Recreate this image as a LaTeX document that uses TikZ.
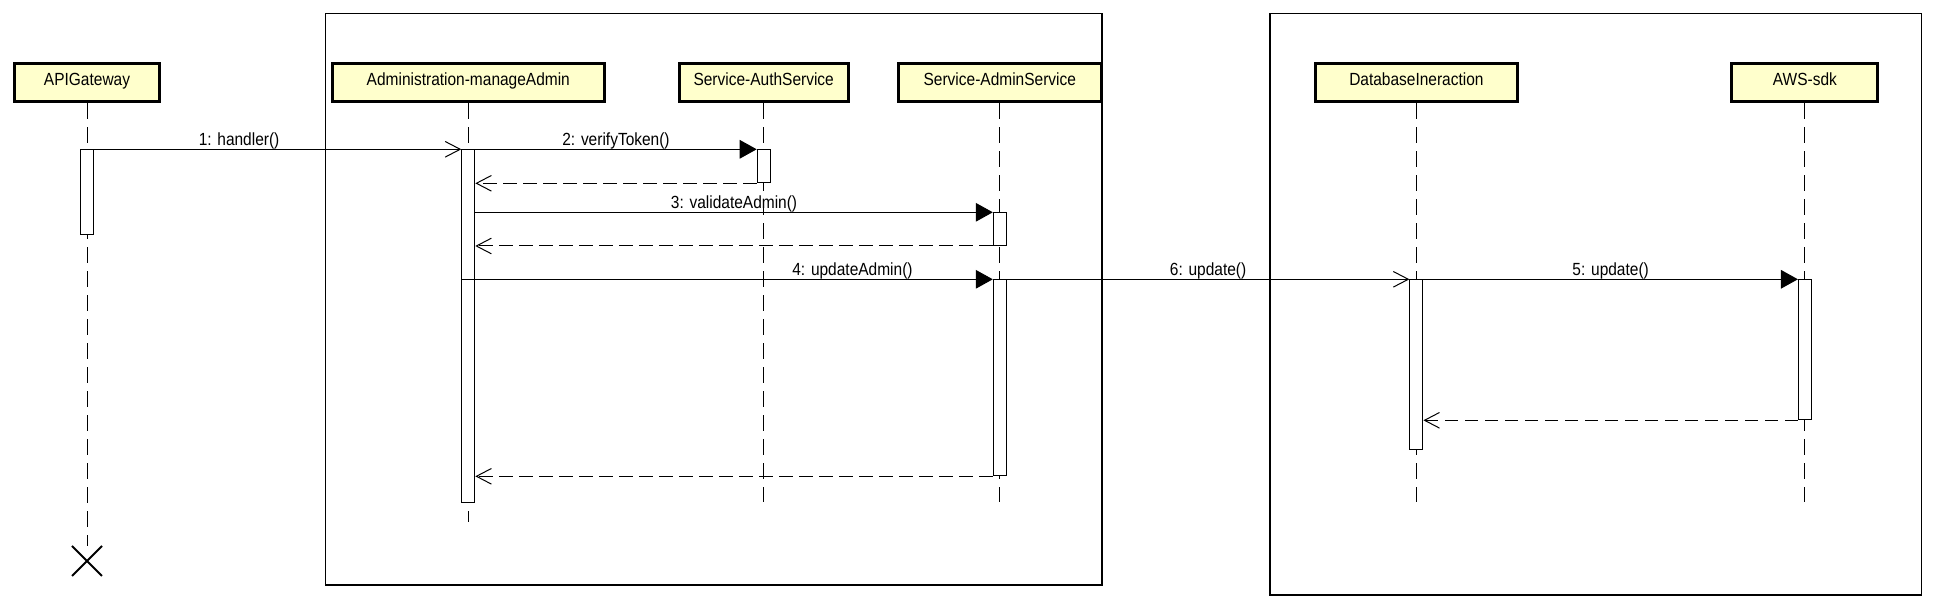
\documentclass[tikz,border=0pt]{standalone}
\usepackage{fontspec}
\setmainfont{Liberation Sans}[FakeStretch=0.88]
\usetikzlibrary{arrows.meta,shapes.misc}
\definecolor{headfill}{HTML}{FFFFCC}
\begin{document}
\begin{tikzpicture}[x=0.5pt,y=-0.5pt,
  font=\fontsize{8.8pt}{10pt}\selectfont,
  head/.style={draw, line width=1.5pt, fill=headfill, minimum height=19.3pt,
    inner sep=0pt, text height=5.5pt, text depth=2pt, anchor=center},
  actbox/.style={draw, line width=0.5pt, fill=white, minimum width=6.5pt,
    inner sep=0pt, anchor=north},
  lifeline/.style={line width=0.5pt, dash pattern=on 8pt off 4pt},
  msg/.style={line width=0.5pt, -{Triangle[length=8.5pt, width=9.3pt]}},
  call/.style={line width=0.5pt, -{Straight Barb[length=7.5pt, width=7.8pt]}},
  reply/.style={line width=0.5pt, dash pattern=on 6.67pt off 3.33pt,
    -{Straight Barb[length=7.5pt, width=7.8pt]}},
  frame/.style={line width=0.6pt},
  lbl/.style={anchor=base, inner sep=0pt, yshift=2pt},
  destroy/.style={draw, cross out, line width=1pt, minimum size=14pt, inner sep=0pt}
]
\useasboundingbox (0,0) rectangle (1934,608);

% frames
\draw[frame] (325.3,13.3) rectangle (1102,585);
\draw[frame] (1270,13.3) rectangle (1921.7,595);

% heads
\node[head, minimum width=72.8pt]  (h1) at (87,82.5)     {APIGateway};
\node[head, minimum width=136.2pt] (h2) at (468.3,82.5)  {Administration-manageAdmin};
\node[head, minimum width=84.6pt]  (h3) at (763.7,82.5)  {Service-AuthService};
\node[head, minimum width=101.6pt] (h4) at (999.8,82.5)  {Service-AdminService};
\node[head, minimum width=101.35pt](h5) at (1416.4,82.5) {DatabaseIneraction};
\node[head, minimum width=73.05pt] (h6) at (1804.9,82.5) {AWS-sdk};

% lifeline ends
\node[destroy] (x1) at (87,561) {};
\coordinate (e2) at (468.3,522.3);
\coordinate (e3) at (763.7,502.3);
\coordinate (e4) at (999.8,502.3);
\coordinate (e5) at (1416.4,502.3);
\coordinate (e6) at (1804.9,502.3);

% lifelines
\draw[lifeline] (h1.south) -- (x1.north);
\draw[lifeline] (h2.south) -- (e2);
\draw[lifeline] (h3.south) -- (e3);
\draw[lifeline] (h4.south) -- (e4);
\draw[lifeline] (h5.south) -- (e5);
\draw[lifeline] (h6.south) -- (e6);

% activations
\node[actbox, minimum height=42.5pt]  (a1) at (87,149.3)     {};
\node[actbox, minimum height=176.5pt] (a2) at (468.3,149.3)  {};
\node[actbox, minimum height=16.5pt]  (a3) at (763.7,149.3)  {};
\node[actbox, minimum height=16.35pt] (a4) at (999.8,212.3)  {};
\node[actbox, minimum height=98pt]    (a5) at (999.8,279.3)  {};
\node[actbox, minimum height=85pt]    (a6) at (1416.4,279.3) {};
\node[actbox, minimum height=70pt]    (a7) at (1804.9,279.3) {};

% messages
\draw[call] (a1.north east) -- node[lbl, pos=0.395] (t1) {1: handler()} (a2.north west);
\draw[msg] (a2.north east) -- node[lbl] (t2) {2: verifyToken()} (a3.north west);
\draw[reply] (a3.south west) -- (a3.south west -| a2.east);
\draw[msg] (a4.north west -| a2.east) -- node[lbl] (t3) {3: validateAdmin()} (a4.north west);
\draw[reply] (a4.south west) -- (a4.south west -| a2.east);
\draw[msg] (a5.north west -| a2.west) -- node[lbl, pos=0.736] (t4) {4: updateAdmin()} (a5.north west);
\draw[call] (a5.north east) -- node[lbl] (t6) {6: update()} (a6.north west);
\draw[msg] (a6.north east) -- node[lbl] (t5) {5: update()} (a7.north west);
\draw[reply] (a7.south west) -- (a7.south west -| a6.east);
\draw[reply] (a5.south west) -- (a5.south west -| a2.east);
\end{tikzpicture}
\end{document}
